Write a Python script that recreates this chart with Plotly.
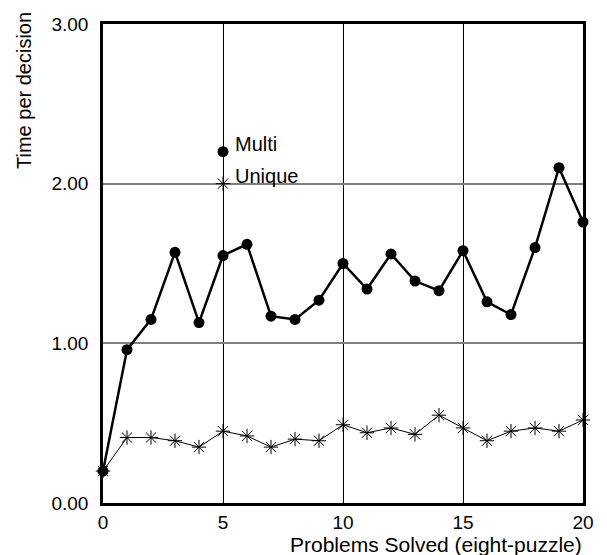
import plotly.graph_objects as go

problems = list(range(0, 21))
multi = [0.20, 0.96, 1.15, 1.57, 1.13, 1.55, 1.62, 1.17, 1.15, 1.27, 1.50,
         1.34, 1.56, 1.39, 1.33, 1.58, 1.26, 1.18, 1.60, 2.10, 1.76]
unique = [0.20, 0.41, 0.41, 0.39, 0.35, 0.45, 0.42, 0.35, 0.40, 0.39, 0.49,
          0.44, 0.47, 0.43, 0.55, 0.47, 0.39, 0.45, 0.47, 0.45, 0.52]
legend_x = [5, 5]
legend_y = [2.2, 2.0]
legend_labels = ["Multi", "Unique"]
x_ticks = [0, 5, 10, 15, 20]
y_ticks = [0, 1, 2, 3]
y_tick_labels = ["0.00", "1.00", "2.00", "3.00"]

FONT = "Liberation Sans, Arial, Helvetica, sans-serif"

fig = go.Figure()
fig.add_trace(go.Scatter(
    x=problems, y=unique, mode="lines+markers",
    line=dict(color="black", width=1),
    marker=dict(symbol="asterisk-open", size=12, color="black",
                line=dict(color="black", width=1)),
    cliponaxis=False, showlegend=False))
fig.add_trace(go.Scatter(
    x=problems, y=multi, mode="lines+markers",
    line=dict(color="black", width=2.5),
    marker=dict(symbol="circle", size=11, color="black"),
    cliponaxis=False, showlegend=False))
# legend-like markers
fig.add_trace(go.Scatter(
    x=[legend_x[0]], y=[legend_y[0]], mode="markers",
    marker=dict(symbol="circle", size=11, color="black"),
    cliponaxis=False, showlegend=False))
fig.add_trace(go.Scatter(
    x=[legend_x[1]], y=[legend_y[1]], mode="markers",
    marker=dict(symbol="asterisk-open", size=12, color="black",
                line=dict(color="black", width=1)),
    cliponaxis=False, showlegend=False))

annotations = []
for lx, ly, lab in zip(legend_x, legend_y, legend_labels):
    annotations.append(dict(
        text=lab, x=lx, y=ly, xref="x", yref="y", xanchor="left",
        yanchor="middle", xshift=10, yshift=8, showarrow=False,
        font=dict(family=FONT, size=20, color="black")))

annotations += [
    dict(text="Time per decision", textangle=-90, xref="paper", yref="paper",
         x=(24 - 103) / 480, y=(503 - 91) / 479, xanchor="center", yanchor="middle",
         showarrow=False, font=dict(family=FONT, size=20, color="black")),
    dict(text="Problems Solved (eight-puzzle)", xref="paper", yref="paper",
         x=(584 - 103) / 480, y=(503 - 544) / 479, xanchor="right", yanchor="middle",
         showarrow=False, font=dict(family=FONT, size=21, color="black")),
]

fig.update_layout(
    width=607, height=555,
    margin=dict(l=103, r=24, t=24, b=52),
    paper_bgcolor="white", plot_bgcolor="white",
    font=dict(family=FONT, size=19, color="black"),
    xaxis=dict(range=[0, 20], tickvals=x_ticks, showgrid=True,
               gridcolor="black", gridwidth=1, zeroline=False,
               showline=True, linecolor="black", linewidth=2.5, mirror=True,
               ticks="", ticklabelstandoff=0,
               tickfont=dict(family=FONT, size=19, color="black")),
    yaxis=dict(range=[0, 3], tickvals=y_ticks, ticktext=y_tick_labels,
               showgrid=True, gridcolor="#7f7f7f", gridwidth=1.5,
               zeroline=False, showline=True, linecolor="black",
               linewidth=2.5, mirror=True, ticks="", ticklabelstandoff=8,
               tickfont=dict(family=FONT, size=19, color="black")),
    annotations=annotations,
)

fig.write_html("out.html")
